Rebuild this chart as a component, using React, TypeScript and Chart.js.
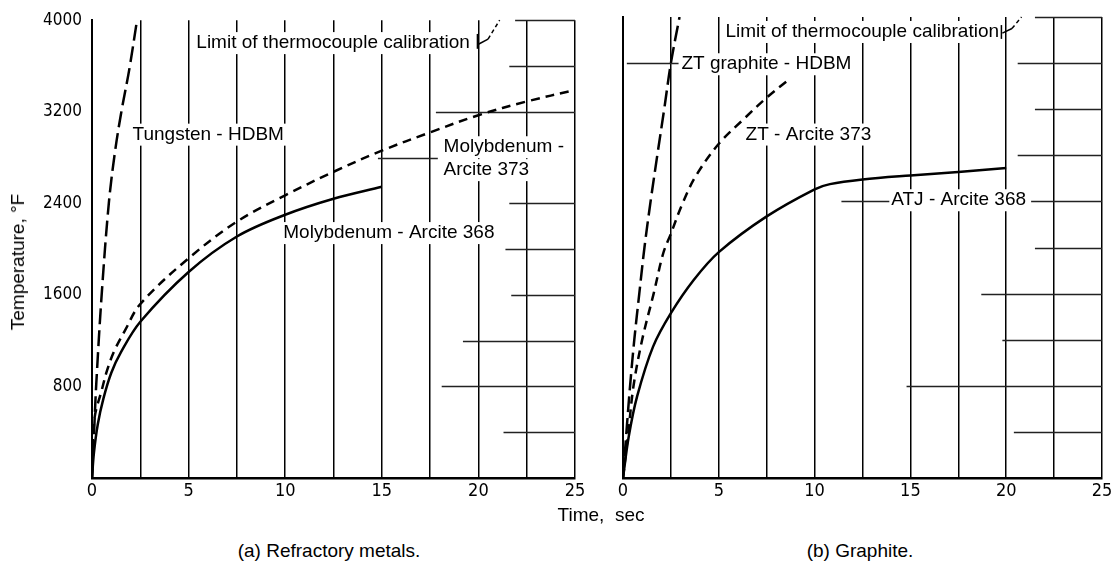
import React, { useEffect, useRef } from "react";
import { Chart, registerables } from "chart.js";
Chart.register(...registerables);

// ---------- axes ----------
const timeTickLabels = [0, 5, 10, 15, 20, 25];
const tempTickLabels = [800, 1600, 2400, 3200, 4000];

// ---------- (a) Refractory metals ----------
const tungstenTime = [0, 0.12, 0.22, 0.5, 0.87, 1.19, 1.52, 1.93, 2.33];
const tungstenTemp = [0, 450, 820, 1600, 2400, 2850, 3200, 3570, 4000];

const moly373Time = [0, 0.13, 0.5, 0.78, 1.15, 1.71, 2.5, 5, 7.5, 10, 12.5, 15, 17.5, 20, 22.5, 25];
const moly373Temp = [0, 520, 765, 940, 1110, 1290, 1520, 1920, 2240, 2470, 2675, 2860, 3020, 3170, 3290, 3390];

const moly368Time = [0, 0.1, 0.3, 0.6, 1.0, 1.5, 2.5, 5, 7.5, 10, 12.5, 15];
const moly368Temp = [0, 220, 470, 700, 920, 1100, 1365, 1800, 2110, 2300, 2440, 2545];

// ---------- (b) Graphite ----------
const ztHdbmTime = [0, 0.18, 0.37, 0.59, 0.85, 1.12, 1.44, 1.79, 2.15, 2.5, 2.95];
const ztHdbmTemp = [0, 400, 800, 1200, 1600, 2000, 2400, 2800, 3200, 3600, 4000];

const zt373Time = [0, 0.28, 0.55, 1.0, 1.6, 2.1, 2.5, 3.1, 3.8, 5.0, 6.4, 7.5, 8.6];
const zt373Temp = [0, 400, 800, 1200, 1600, 1950, 2120, 2380, 2620, 2900, 3130, 3300, 3450];

const atj368Time = [0, 0.3, 0.74, 1.57, 2.5, 3.7, 5, 7.5, 10, 10.8, 12.5, 15, 17.5, 20];
const atj368Temp = [0, 360, 710, 1140, 1430, 1720, 1960, 2270, 2505, 2550, 2590, 2625, 2655, 2690];

// ---------- partial horizontal rulings (temperature level, from time, to time) ----------
const leftRuleTemp = [4000, 3600, 3200, 2800, 2400, 2000, 1600, 1200, 800, 400];
const leftRuleFrom = [21.9, 21.6, 17.8, 14.8, 21.6, 21.4, 21.7, 19.2, 18.1, 21.3];
const leftRuleTo = [25, 25, 25, 17.9, 25, 25, 25, 25, 25, 25];

const rightRuleTemp = [4000, 3600, 3600, 3200, 2800, 2400, 2400, 2000, 1600, 1200, 800, 400];
const rightRuleFrom = [21.5, 0.2, 20.6, 21.5, 20.6, 11.4, 21.3, 21.5, 18.7, 19.8, 14.8, 20.4];
const rightRuleTo = [25, 2.9, 25, 25, 25, 13.9, 25, 25, 25, 25, 25, 25];

// ---------- curve labels (text, anchor time, anchor temperature) ----------
const leftLabelText = ["Limit of thermocouple calibration", "Tungsten - HDBM", "Molybdenum -", "Arcite 373", "Molybdenum - Arcite 368"];
const leftLabelTime = [5.4, 2.1, 18.2, 18.2, 9.9];
const leftLabelTemp = [3800, 3000, 2890, 2690, 2140];

const rightLabelText = ["Limit of thermocouple calibration", "ZT graphite - HDBM", "ZT - Arcite 373", "ATJ - Arcite 368"];
const rightLabelTime = [5.35, 3.05, 6.4, 14.0];
const rightLabelTemp = [3870, 3590, 2980, 2410];

// limit leader: bar [time, tempTop, tempBottom], then tick path
const leftLimitBar = [19.95, 3880, 3750];
const leftLimitPath = [[20.0, 3790], [20.5, 3835], [21.1, 4000]];
const rightLimitBar = [19.75, 3930, 3810];
const rightLimitPath = [[19.8, 3860], [20.3, 3900], [20.8, 4000]];

const FONT_TEXT = "'Liberation Sans', Arial, sans-serif";
const FONT_NUM = "'Liberation Sans Narrow', 'DejaVu Sans Condensed', sans-serif";
const LONG_DASH = [16, 6];
const SHORT_DASH = [9, 6];

function series(t: number[], T: number[], dash: number[]) {
  return {
    data: t.map((v, i) => ({ x: v, y: T[i] })),
    borderColor: "#000",
    borderWidth: 2.5,
    borderDash: dash,
    borderCapStyle: "butt",
    pointRadius: 0,
    fill: false,
    tension: 0.35,
  };
}

function notesPlugin(
  ruleT: number[], ruleFrom: number[], ruleTo: number[],
  labText: string[], labTime: number[], labTemp: number[],
  bar: number[], path: number[][]
) {
  return {
    id: "notes",
    beforeDatasetsDraw(chart: any) {
      const { ctx, scales } = chart;
      const x = scales.x, y = scales.y;
      ctx.save();
      ctx.font = `19px ${FONT_TEXT}`;
      ctx.textBaseline = "middle";
      ctx.textAlign = "left";
      ctx.fillStyle = "#fff";
      labText.forEach((s, i) => {
        const px = x.getPixelForValue(labTime[i]);
        const py = y.getPixelForValue(labTemp[i]);
        const w = ctx.measureText(s).width;
        ctx.fillRect(px - 3, py - 11, w + 6, 22);
      });
      ctx.strokeStyle = "#222";
      ctx.lineWidth = 1.3;
      ruleT.forEach((T, i) => {
        const py = Math.round(y.getPixelForValue(T)) + 0.5;
        ctx.beginPath();
        ctx.moveTo(x.getPixelForValue(ruleFrom[i]), py);
        ctx.lineTo(x.getPixelForValue(ruleTo[i]), py);
        ctx.stroke();
      });
      ctx.fillStyle = "#000";
      labText.forEach((s, i) => {
        ctx.fillText(s, x.getPixelForValue(labTime[i]), y.getPixelForValue(labTemp[i]));
      });
      ctx.strokeStyle = "#000";
      ctx.lineWidth = 1.5;
      ctx.beginPath();
      ctx.moveTo(x.getPixelForValue(bar[0]), y.getPixelForValue(bar[1]));
      ctx.lineTo(x.getPixelForValue(bar[0]), y.getPixelForValue(bar[2]));
      ctx.stroke();
      ctx.beginPath();
      ctx.moveTo(x.getPixelForValue(path[0][0]), y.getPixelForValue(path[0][1]));
      ctx.lineTo(x.getPixelForValue(path[1][0]), y.getPixelForValue(path[1][1]));
      ctx.stroke();
      ctx.setLineDash([4, 3]);
      ctx.beginPath();
      ctx.moveTo(x.getPixelForValue(path[1][0]), y.getPixelForValue(path[1][1]));
      ctx.lineTo(x.getPixelForValue(path[2][0]), y.getPixelForValue(path[2][1]));
      ctx.stroke();
      ctx.restore();
    },
  };
}

function makeConfig(datasets: any[], yWidth: number, padRight: number, showY: boolean, plugin: any) {
  return {
    type: "line",
    data: { datasets },
    options: {
      animation: false,
      responsive: false,
      events: [],
      layout: { padding: { left: 0, right: padRight, top: 17, bottom: 0 } },
      plugins: { legend: { display: false }, tooltip: { enabled: false } },
      scales: {
        x: {
          type: "linear",
          min: 0,
          max: 25,
          afterFit: (s: any) => { s.height = 52; },
          ticks: {
            stepSize: 2.5,
            autoSkip: false,
            maxRotation: 0,
            padding: 3,
            color: "#000",
            font: { family: FONT_NUM, size: 18 },
            callback: (v: any) => (timeTickLabels.includes(Number(v)) ? String(v) : ""),
          },
          grid: { color: "#000", lineWidth: 1.5, drawTicks: false },
          border: { color: "#000", width: 2.5 },
        },
        y: {
          type: "linear",
          min: 0,
          max: 4000,
          afterFit: (s: any) => { s.width = yWidth; },
          ticks: {
            stepSize: 400,
            display: showY,
            padding: 10,
            color: "#000",
            font: { family: FONT_NUM, size: 17 },
            callback: (v: any) => (tempTickLabels.includes(Number(v)) ? String(v) : ""),
          },
          grid: { color: "rgba(0,0,0,0)", drawTicks: false },
          border: { color: "#000", width: 2 },
        },
      },
    },
    plugins: [plugin],
  };
}

export default function App() {
  const leftRef = useRef<HTMLCanvasElement>(null);
  const rightRef = useRef<HTMLCanvasElement>(null);

  useEffect(() => {
    const left = new Chart(
      leftRef.current as HTMLCanvasElement,
      makeConfig(
        [
          series(tungstenTime, tungstenTemp, LONG_DASH),
          series(moly373Time, moly373Temp, SHORT_DASH),
          series(moly368Time, moly368Temp, []),
        ],
        92, 25, true,
        notesPlugin(leftRuleTemp, leftRuleFrom, leftRuleTo, leftLabelText, leftLabelTime, leftLabelTemp, leftLimitBar, leftLimitPath)
      ) as any
    );
    const right = new Chart(
      rightRef.current as HTMLCanvasElement,
      makeConfig(
        [
          series(ztHdbmTime, ztHdbmTemp, LONG_DASH),
          series(zt373Time, zt373Temp, SHORT_DASH),
          series(atj368Time, atj368Temp, []),
        ],
        23, 14, false,
        notesPlugin(rightRuleTemp, rightRuleFrom, rightRuleTo, rightLabelText, rightLabelTime, rightLabelTemp, rightLimitBar, rightLimitPath)
      ) as any
    );
    return () => {
      left.destroy();
      right.destroy();
    };
  }, []);

  const textStyle: React.CSSProperties = {
    position: "absolute",
    fontFamily: FONT_TEXT,
    fontSize: 19,
    color: "#000",
    whiteSpace: "nowrap",
    lineHeight: "22px",
  };

  return (
    <div style={{ position: "absolute", left: 0, top: 0, width: 1116, height: 568, background: "#fff", overflow: "hidden" }}>
      <canvas ref={leftRef} width={600} height={530} style={{ position: "absolute", left: 0, top: 0, width: 600, height: 530 }} />
      <canvas ref={rightRef} width={516} height={530} style={{ position: "absolute", left: 600, top: 0, width: 516, height: 530 }} />
      <div style={{ ...textStyle, left: 18, top: 262, transform: "translate(-50%, -50%) rotate(-90deg)" }}>Temperature, °F</div>
      <div style={{ ...textStyle, left: 601, top: 515, transform: "translate(-50%, -50%)" }}>Time,&nbsp; sec</div>
      <div style={{ ...textStyle, left: 329, top: 551, transform: "translate(-50%, -50%)" }}>(a) Refractory metals.</div>
      <div style={{ ...textStyle, left: 860, top: 551, transform: "translate(-50%, -50%)" }}>(b) Graphite.</div>
    </div>
  );
}
